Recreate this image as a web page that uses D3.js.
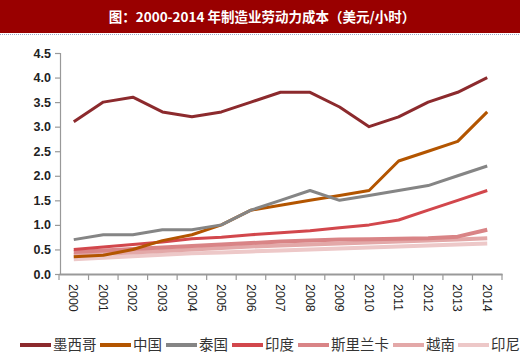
<!DOCTYPE html>
<html><head><meta charset="utf-8">
<script src="https://cdn.jsdelivr.net/npm/d3@7"></script>
<style>
html,body{margin:0;padding:0;background:#fff;}
svg{display:block;}
</style></head>
<body>
<svg id="c" width="520" height="356"></svg>
<script>
const title = "图：2000-2014 年制造业劳动力成本（美元/小时）";
const years = ["2000","2001","2002","2003","2004","2005","2006","2007","2008","2009","2010","2011","2012","2013","2014"];
const yTicks = [0,0.5,1.0,1.5,2.0,2.5,3.0,3.5,4.0,4.5];
const seriesNames = ["墨西哥","中国","泰国","印度","斯里兰卡","越南","印尼"];
const mexico   = [3.1,3.5,3.6,3.3,3.2,3.3,3.5,3.7,3.7,3.4,3.0,3.2,3.5,3.7,4.0];
const china    = [0.35,0.38,0.5,0.68,0.8,1.0,1.3,1.4,1.5,1.6,1.7,2.3,2.5,2.7,3.3];
const thailand = [0.7,0.8,0.8,0.9,0.9,1.0,1.3,1.5,1.7,1.5,1.6,1.7,1.8,2.0,2.2];
const india    = [0.5,0.55,0.6,0.65,0.72,0.75,0.8,0.84,0.88,0.94,1.0,1.1,1.3,1.5,1.7];
const srilanka = [0.45,0.48,0.51,0.54,0.57,0.6,0.63,0.66,0.68,0.7,0.71,0.72,0.73,0.76,0.9];
const vietnam  = [0.38,0.41,0.44,0.47,0.5,0.53,0.56,0.58,0.6,0.62,0.64,0.66,0.68,0.7,0.73];
const indonesia= [0.3,0.33,0.36,0.39,0.42,0.44,0.46,0.48,0.5,0.52,0.54,0.56,0.58,0.6,0.62];
const colors = ["#8c2a2d","#b35500","#858585","#d2474c","#d98486","#e3a8a8","#edc8c8"];

const data = [mexico,china,thailand,india,srilanka,vietnam,indonesia];
const svg = d3.select("#c");

// title bar
svg.append("rect").attr("x",0).attr("y",0).attr("width",520).attr("height",33).attr("fill","#990000");
svg.append("line").attr("x1",0).attr("x2",520).attr("y1",34.5).attr("y2",34.5)
  .attr("stroke","#9aa6c8").attr("stroke-width",1).attr("stroke-dasharray","1,1");
svg.append("text").attr("x",262).attr("y",22).attr("text-anchor","middle")
  .attr("fill","#fff").attr("font-family","'Noto Sans CJK SC'").attr("font-weight","bold")
  .attr("font-size",13.5).text(title);

const x = d3.scaleBand().domain(years).range([59,502]);
const y = d3.scaleLinear().domain([0,4.5]).range([274,53]);

// y axis
const ya = svg.append("g").attr("transform","translate(60,0)")
  .call(d3.axisLeft(y).tickValues(yTicks).tickFormat(d3.format(".1f")).tickSize(5).tickPadding(4));
ya.select(".domain").attr("stroke","#999").attr("stroke-width",1.2);
ya.selectAll(".tick line").attr("stroke","#999").attr("stroke-width",1.2);
ya.selectAll("text").attr("font-family","'Liberation Sans',Arial").attr("font-size",12.5)
  .attr("font-weight","bold").attr("fill","#222");

// x axis
const xa = svg.append("g").attr("transform","translate(0,274)")
  .call(d3.axisBottom(x).tickSize(0).tickSizeOuter(0));
xa.select(".domain").attr("stroke","#999").attr("stroke-width",2);
xa.selectAll(".tick text").attr("transform","translate(0,10) rotate(90)")
  .attr("text-anchor","start").attr("dy","0.35em").attr("dx",0).attr("y",0)
  .attr("font-family","'Liberation Sans',Arial").attr("font-size",12.5).attr("fill","#222");
// boundary ticks
svg.append("g").selectAll("line").data(years.concat(["end"])).join("line")
  .attr("x1",(d,i)=> i<years.length ? x(d) : x(years[years.length-1])+x.bandwidth())
  .attr("x2",(d,i)=> i<years.length ? x(d) : x(years[years.length-1])+x.bandwidth())
  .attr("y1",274).attr("y2",280).attr("stroke","#999").attr("stroke-width",1.2);

const line = d3.line().x((d,i)=>x(years[i])+x.bandwidth()/2).y(d=>y(d)).curve(d3.curveLinear);

const order = [6,5,4,3,1,2,0];
order.forEach(k=>{
  svg.append("path").datum(data[k]).attr("d",line).attr("fill","none")
    .attr("stroke",colors[k]).attr("stroke-width", k>=4 ? 4 : 3).attr("stroke-linejoin","round");
});

// legend
const legX = [20,100,166,232,298,393,458];
const lg = svg.append("g");
seriesNames.forEach((n,i)=>{
  lg.append("rect").attr("x",legX[i]).attr("y",343).attr("width",31).attr("height",4).attr("fill",colors[i]);
  lg.append("text").attr("x",legX[i]+33).attr("y",350).attr("font-family","'Noto Sans CJK SC'")
    .attr("font-size",14.5).attr("fill","#333").text(n);
});
</script>
</body></html>
